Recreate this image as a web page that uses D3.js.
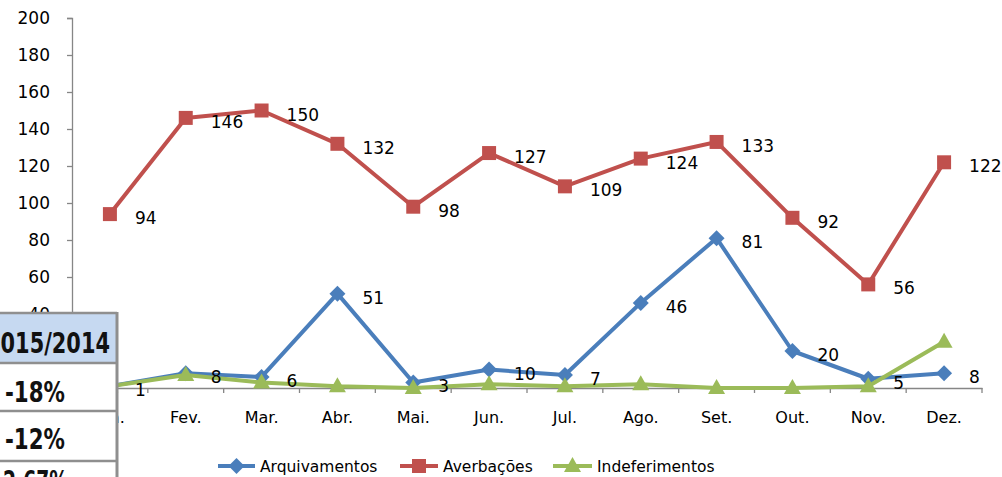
<!DOCTYPE html>
<html>
<head>
<meta charset="utf-8">
<script src="https://cdn.jsdelivr.net/npm/d3@7"></script>
<style>
  html, body { margin: 0; padding: 0; background: #fff; }
  svg { display: block; }
  text { font-family: "DejaVu Sans", sans-serif; }
</style>
</head>
<body>
<svg id="chart" width="1002" height="477"></svg>
<script>
const months = ["Jan.", "Fev.", "Mar.", "Abr.", "Mai.", "Jun.", "Jul.", "Ago.", "Set.", "Out.", "Nov.", "Dez."];
const arquivamentos = [1, 8, 6, 51, 3, 10, 7, 46, 81, 20, 5, 8];
const averbacoes = [94, 146, 150, 132, 98, 127, 109, 124, 133, 92, 56, 122];
const indeferimentos = [1, 7, 3, 1, 0, 2, 1, 2, 0, 0, 1, 25];
const yTicks = [0, 20, 40, 60, 80, 100, 120, 140, 160, 180, 200];
const seriesNames = ["Arquivamentos", "Averbações", "Indeferimentos"];
const tableHeader = "2015/2014";
const tableRows = ["-18%", "-12%", "2,67%"];

(function () {
const svg = d3.select("#chart");
const pLeft = 72, pRight = 982, pTop = 18, pBottom = 388;

const x = d3.scaleBand().domain(months).range([pLeft, pRight]);
const cx = m => x(m) + x.bandwidth() / 2;
const y = d3.scaleLinear().domain([0, 200]).range([pBottom, pTop]);

const axisColor = "#868686";

// Y axis
const yAxis = svg.append("g").attr("transform", `translate(${pLeft},0)`)
  .call(d3.axisLeft(y).tickValues(yTicks).tickSize(5).tickPadding(17).tickFormat(d3.format("d")));
yAxis.select(".domain").attr("stroke", axisColor).attr("stroke-width", 1.3);
yAxis.selectAll(".tick line").attr("stroke", axisColor).attr("stroke-width", 1.3);
yAxis.selectAll(".tick text").attr("font-size", 17).attr("fill", "#000")
  .attr("font-family", "DejaVu Sans, sans-serif");

// X axis
const xAxis = svg.append("g").attr("transform", `translate(0,${pBottom})`)
  .call(d3.axisBottom(x).tickSize(0).tickPadding(24));
xAxis.select(".domain").attr("stroke", axisColor).attr("stroke-width", 1.3);
xAxis.selectAll(".tick text").attr("font-size", 16).attr("fill", "#000")
  .attr("font-family", "DejaVu Sans, sans-serif");
const boundaries = months.map(m => x(m)).concat([pRight]);
svg.append("g").selectAll("line").data(boundaries).join("line")
  .attr("x1", d => d).attr("x2", d => d)
  .attr("y1", pBottom).attr("y2", pBottom + 5)
  .attr("stroke", axisColor).attr("stroke-width", 1.3);

const colors = ["#4a7ebb", "#c0504d", "#9bbb59"];
const dataSets = [arquivamentos, averbacoes, indeferimentos];

function markerPath(kind) {
  if (kind === 0) return "M0,-8L8,0L0,8L-8,0Z";
  if (kind === 1) return "M-7,-7L7,-7L7,7L-7,7Z";
  return "M0,-9L8.5,6L-8.5,6Z";
}

const line = d3.line().x((d, i) => cx(months[i])).y(d => y(d));

dataSets.forEach((vals, s) => {
  const g = svg.append("g");
  g.append("path").datum(vals).attr("d", line)
    .attr("fill", "none").attr("stroke", colors[s]).attr("stroke-width", 4)
    .attr("stroke-linejoin", "round");
  g.selectAll("path.m").data(vals).join("path").attr("class", "m")
    .attr("d", markerPath(s))
    .attr("transform", (d, i) => `translate(${cx(months[i])},${y(d)})`)
    .attr("fill", colors[s]);
});

[0, 1].forEach(s => {
  svg.append("g").selectAll("text").data(dataSets[s]).join("text")
    .attr("x", (d, i) => cx(months[i]) + 25)
    .attr("y", d => y(d) + 10)
    .attr("font-size", 17).attr("fill", "#000")
    .text(d => d);
});

// Legend
const legendItems = [
  { x1: 218, x2: 255, tx: 260 },
  { x1: 400, x2: 438, tx: 443 },
  { x1: 553, x2: 592, tx: 597 }
];
const ly = 466;
legendItems.forEach((it, s) => {
  const g = svg.append("g");
  g.append("line").attr("x1", it.x1).attr("x2", it.x2).attr("y1", ly).attr("y2", ly)
    .attr("stroke", colors[s]).attr("stroke-width", 4);
  g.append("path").attr("d", markerPath(s))
    .attr("transform", `translate(${(it.x1 + it.x2) / 2},${ly})`)
    .attr("fill", colors[s]);
  g.append("text").attr("x", it.tx).attr("y", ly + 6).attr("font-size", 15.5)
    .attr("fill", "#000").text(seriesNames[s]);
});

// Overlaid table fragment
const tbl = svg.append("g");
const tRight = 117, tTop = 313;
const rowEdges = [tTop, 363, 411, 461, 520];
tbl.append("rect").attr("x", -10).attr("y", tTop).attr("width", tRight + 10).attr("height", 477 - tTop + 20)
  .attr("fill", "#fff");
tbl.append("rect").attr("x", -10).attr("y", tTop).attr("width", tRight + 10).attr("height", rowEdges[1] - tTop)
  .attr("fill", "#c6d9f1");
rowEdges.forEach(e => {
  tbl.append("line").attr("x1", -10).attr("x2", tRight).attr("y1", e).attr("y2", e)
    .attr("stroke", "#8f8f8f").attr("stroke-width", 2.5);
});
tbl.append("line").attr("x1", tRight).attr("x2", tRight).attr("y1", tTop - 1).attr("y2", 477)
  .attr("stroke", "#8f8f8f").attr("stroke-width", 3);

const tFont = "'Liberation Sans Narrow', 'DejaVu Sans Condensed', 'Liberation Sans', sans-serif";
tbl.append("text").attr("x", -14).attr("y", 353).attr("font-size", 28).attr("font-weight", "bold")
  .attr("font-family", tFont).attr("fill", "#111")
  .attr("textLength", 124).attr("lengthAdjust", "spacingAndGlyphs").text(tableHeader);
const rowBase = [402, 449, 491];
const rowX = [5, 5, 3];
const rowLen = [60, 60, 65];
tableRows.forEach((t, i) => {
  tbl.append("text").attr("x", rowX[i]).attr("y", rowBase[i]).attr("font-size", 28).attr("font-weight", "bold")
    .attr("font-family", tFont).attr("fill", "#111")
    .attr("textLength", rowLen[i]).attr("lengthAdjust", "spacingAndGlyphs").text(t);
});
})();
</script>
</body>
</html>
